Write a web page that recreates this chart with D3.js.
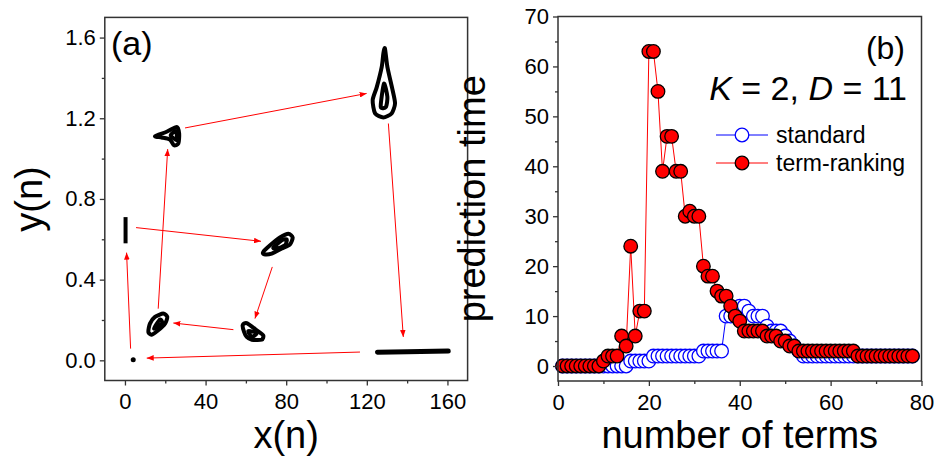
<!DOCTYPE html>
<html>
<head>
<meta charset="utf-8">
<script src="https://cdn.jsdelivr.net/npm/d3@7/dist/d3.min.js"></script>
<style>
  body { margin: 0; background: #fff; }
  svg { display: block; font-family: 'Liberation Sans', Arial, sans-serif; }
</style>
</head>
<body>
<div id="chart"><svg width="937" height="457"></svg></div>
<script>
// ---- data, panel (a): orbit clusters in the (x(n), y(n)) plane
const dotA = [4.1, 0.003];
const barV = [[0.3, 0.58], [0.3, 0.71]];
const barH = [[125.3, 0.040], [140, 0.043], [160.4, 0.046]];
const loopsA = [
  // blob near (75, 0.58)
  [[68.6, 0.537], [72.0, 0.570], [76.9, 0.609], [81.1, 0.628], [83.2, 0.609], [81.9, 0.575], [77.8, 0.554], [72.8, 0.529], [69.0, 0.526]],
  [[73.6, 0.559], [77.8, 0.595], [80.3, 0.599], [79.4, 0.570], [75.3, 0.554]],
  // blob near (63, 0.14)
  [[58.4, 0.174], [60.4, 0.185], [65.4, 0.149], [68.6, 0.124], [67.8, 0.102], [62.9, 0.102], [60.4, 0.116], [59.1, 0.141]],
  [[61.2, 0.145], [65.4, 0.135], [62.9, 0.116]],
  // blob near (16, 0.18)
  [[11.6, 0.141], [12.4, 0.182], [14.9, 0.215], [19.0, 0.232], [21.0, 0.215], [19.9, 0.182], [16.5, 0.149], [13.2, 0.127]],
  [[14.4, 0.157], [17.4, 0.202], [18.5, 0.182]],
  // blob near (22, 1.11)
  [[14.9, 1.111], [20.7, 1.133], [25.7, 1.157], [26.9, 1.124], [26.5, 1.075], [24.3, 1.066], [22.3, 1.095], [18.2, 1.105]],
  [[22.7, 1.116], [25.3, 1.137], [25.7, 1.091]],
  // tall loop near (128, 1.37)
  [[129.0, 1.546], [130.2, 1.455], [132.8, 1.339], [134.0, 1.273], [132.3, 1.224], [128.2, 1.204], [124.1, 1.224], [122.9, 1.290], [124.9, 1.353], [127.4, 1.455], [128.2, 1.521]],
  [[126.9, 1.257], [128.5, 1.372], [130.2, 1.306], [129.5, 1.257]]
];
// arrows: [x0, y0, x1, y1]
const arrowsA = [
  [116.6, 0.041, 10.8, 0.011],
  [2.8, 0.058, 0.8, 0.534],
  [5.5, 0.658, 67.5, 0.590],
  [73.1, 0.463, 64.5, 0.207],
  [53.8, 0.152, 24.0, 0.185],
  [16.5, 0.256, 21.2, 1.047],
  [29.8, 1.152, 119.9, 1.323],
  [130.7, 1.174, 138.1, 0.116]
];
const xTicksA = [0, 40, 80, 120, 160];
const xMinorA = [20, 60, 100, 140];
const yTicksA = [0, 0.4, 0.8, 1.2, 1.6];
const yMinorA = [0.2, 0.6, 1.0, 1.4];

// ---- data, panel (b): prediction time vs number of terms
const terms = [1, 2, 3, 4, 5, 6, 7, 8, 9, 10, 11, 12, 13, 14, 15, 16, 17, 18, 19, 20,
  21, 22, 23, 24, 25, 26, 27, 28, 29, 30, 31, 32, 33, 34, 35, 36, 37, 38, 39, 40,
  41, 42, 43, 44, 45, 46, 47, 48, 49, 50, 51, 52, 53, 54, 55, 56, 57, 58, 59, 60,
  61, 62, 63, 64, 65, 66, 67, 68, 69, 70, 71, 72, 73, 74, 75, 76, 77, 78];
const standard = [0, 0, 0, 0, 0, 0, 0, 0, 0, 0, 0, 0, 0, 0, 0, 1, 1, 1, 1, 1,
  2, 2, 2, 2, 2, 2, 2, 2, 2, 2, 2, 3, 3, 3, 3, 3, 10, 10, 11, 12,
  12, 11, 10, 10, 10, 8, 7, 7, 7, 6, 5, 4, 3, 2, 2, 2, 2, 2, 2, 2,
  2, 2, 2, 2, 2, 2, 2, 2, 2, 2, 2, 2, 2, 2, 2, 2, 2, 2];
const termRanking = [0, 0, 0, 0, 0, 0, 0, 0, 0, 1, 2, 2, 2, 6, 4, 24, 6, 11, 11, 63,
  63, 55, 39, 46, 46, 39, 39, 30, 31, 30, 30, 20, 18, 18, 15, 14, 14, 12, 10, 9,
  7, 7, 7, 7, 7, 6, 6, 6, 5, 5, 4, 4, 3, 3, 3, 3, 3, 3, 3, 3,
  3, 3, 3, 3, 3, 2, 2, 2, 2, 2, 2, 2, 2, 2, 2, 2, 2, 2];
const xTicksB = [0, 20, 40, 60, 80];
const xMinorB = [10, 30, 50, 70];
const yTicksB = [0, 10, 20, 30, 40, 50, 60, 70];
const yMinorB = [5, 15, 25, 35, 45, 55, 65];

const svg = d3.select('#chart svg');
const AXIS = '#333';
const TICK_FONT = 22;
const TITLE_FONT = 38;

svg.append('rect').attr('width', 937).attr('height', 457).style('fill', '#fff');

// arrow head
svg.append('defs').append('marker')
  .attr('id', 'head')
  .attr('viewBox', '0 -4 10 8')
  .attr('refX', 10)
  .attr('refY', 0)
  .attr('markerUnits', 'userSpaceOnUse')
  .attr('markerWidth', 7)
  .attr('markerHeight', 5.6)
  .attr('orient', 'auto')
  .append('path')
  .attr('d', 'M0,-4L10,0L0,4Z')
  .style('fill', '#ff0000');

// draws ticks + labels + frame for a panel
function frame(g, sx, sy, xt, xm, yt, ym, xfmt, yfmt) {
  const [x0, x1] = sx.range();
  const [y0, y1] = sy.range();
  g.append('g')
    .attr('transform', `translate(0,${y0})`)
    .call(d3.axisBottom(sx).tickValues(xm).tickSize(3).tickFormat(''))
    .call(a => a.select('.domain').remove());
  g.append('g')
    .attr('transform', `translate(0,${y0})`)
    .call(d3.axisBottom(sx).tickValues(xt).tickSize(5).tickPadding(8).tickFormat(xfmt))
    .call(a => a.select('.domain').remove());
  g.append('g')
    .attr('transform', `translate(${x0},0)`)
    .call(d3.axisLeft(sy).tickValues(ym).tickSize(3).tickFormat(''))
    .call(a => a.select('.domain').remove());
  g.append('g')
    .attr('transform', `translate(${x0},0)`)
    .call(d3.axisLeft(sy).tickValues(yt).tickSize(5).tickPadding(4).tickFormat(yfmt))
    .call(a => a.select('.domain').remove());
  g.selectAll('.tick line').style('stroke', AXIS).style('stroke-width', 1.3);
  g.selectAll('.tick text')
    .style('font-family', "'Liberation Sans', Arial, sans-serif")
    .style('font-size', TICK_FONT + 'px')
    .style('fill', '#000');
  g.append('rect')
    .attr('x', x0).attr('y', y1)
    .attr('width', x1 - x0).attr('height', y0 - y1)
    .style('fill', 'none')
    .style('stroke', AXIS)
    .style('stroke-width', 1.5);
}

// ================= panel (a)
const xA = d3.scaleLinear().domain([-10, 170]).range([104.8, 467.6]);
const yA = d3.scaleLinear().domain([-0.1, 1.7]).range([380.5, 17.4]);
const gA = svg.append('g').attr('id', 'panelA');

const loopLine = d3.line()
  .x(d => xA(d[0]))
  .y(d => yA(d[1]))
  .curve(d3.curveCardinalClosed.tension(0.3));

gA.selectAll('path.loop')
  .data(loopsA)
  .join('path')
  .attr('class', 'loop')
  .attr('d', loopLine)
  .style('fill', 'none')
  .style('stroke', '#000')
  .style('stroke-width', 4)
  .style('stroke-linejoin', 'round');

gA.append('line')
  .attr('x1', xA(barV[0][0])).attr('y1', yA(barV[0][1]))
  .attr('x2', xA(barV[1][0])).attr('y2', yA(barV[1][1]))
  .style('stroke', '#000')
  .style('stroke-width', 4);

gA.append('path')
  .attr('d', d3.line().x(d => xA(d[0])).y(d => yA(d[1]))(barH))
  .style('fill', 'none')
  .style('stroke', '#000')
  .style('stroke-width', 5)
  .style('stroke-linecap', 'round');

gA.append('circle')
  .attr('cx', xA(dotA[0]))
  .attr('cy', yA(dotA[1]))
  .attr('r', 2.5)
  .style('fill', '#000');

gA.selectAll('line.arrow')
  .data(arrowsA)
  .join('line')
  .attr('class', 'arrow')
  .attr('x1', d => xA(d[0])).attr('y1', d => yA(d[1]))
  .attr('x2', d => xA(d[2])).attr('y2', d => yA(d[3]))
  .style('stroke', '#ff0000')
  .style('stroke-width', 1)
  .attr('marker-end', 'url(#head)');

frame(gA, xA, yA, xTicksA, xMinorA, yTicksA, yMinorA, d3.format('d'), d3.format('.1f'));

gA.append('text')
  .text('(a)')
  .attr('x', 111)
  .attr('y', 55)
  .style('font-size', '34px');

gA.append('text')
  .text('x(n)')
  .attr('x', (xA.range()[0] + xA.range()[1]) / 2)
  .attr('y', 448)
  .style('font-size', TITLE_FONT + 'px')
  .style('text-anchor', 'middle');

gA.append('text')
  .text('y(n)')
  .attr('transform', `translate(42,${(yA.range()[0] + yA.range()[1]) / 2}) rotate(-90)`)
  .style('font-size', TITLE_FONT + 'px')
  .style('text-anchor', 'middle');

// ================= panel (b)
const xB = d3.scaleLinear().domain([0, 80]).range([558, 921.5]);
const yB = d3.scaleLinear().domain([-3, 70]).range([381, 16.5]);
const gB = svg.append('g').attr('id', 'panelB');

const seriesLine = d3.line()
  .x((d, i) => xB(terms[i]))
  .y(d => yB(d));

gB.append('path')
  .attr('d', seriesLine(standard))
  .style('fill', 'none')
  .style('stroke', '#0000ff')
  .style('stroke-width', 1);

gB.selectAll('circle.standard')
  .data(standard)
  .join('circle')
  .attr('class', 'standard')
  .attr('cx', (d, i) => xB(terms[i]))
  .attr('cy', d => yB(d))
  .attr('r', 6.8)
  .style('fill', '#fff')
  .style('stroke', '#0000ff')
  .style('stroke-width', 1.3);

gB.append('path')
  .attr('d', seriesLine(termRanking))
  .style('fill', 'none')
  .style('stroke', '#ff0000')
  .style('stroke-width', 1);

gB.selectAll('circle.ranking')
  .data(termRanking)
  .join('circle')
  .attr('class', 'ranking')
  .attr('cx', (d, i) => xB(terms[i]))
  .attr('cy', d => yB(d))
  .attr('r', 6.8)
  .style('fill', '#ff0000')
  .style('stroke', '#000')
  .style('stroke-width', 1.3);

frame(gB, xB, yB, xTicksB, xMinorB, yTicksB, yMinorB, d3.format('d'), d3.format('d'));

gB.append('text')
  .text('(b)')
  .attr('x', 905)
  .attr('y', 59)
  .style('font-size', '32px')
  .style('text-anchor', 'end');

const kd = gB.append('text')
  .attr('x', 907)
  .attr('y', 100)
  .style('font-size', '34px')
  .style('text-anchor', 'end');
kd.append('tspan').text('K').style('font-style', 'italic');
kd.append('tspan').text(' = 2, ');
kd.append('tspan').text('D').style('font-style', 'italic');
kd.append('tspan').text(' = 11');

// legend
const legend = gB.append('g').attr('id', 'legend');
const legendItems = [
  { name: 'standard', color: '#0000ff', fill: '#fff', edge: '#0000ff', y: 135 },
  { name: 'term-ranking', color: '#ff0000', fill: '#ff0000', edge: '#000', y: 163 }
];
legendItems.forEach(it => {
  legend.append('line')
    .attr('x1', 716).attr('x2', 768)
    .attr('y1', it.y).attr('y2', it.y)
    .style('stroke', it.color)
    .style('stroke-width', 1);
  legend.append('circle')
    .attr('cx', 742).attr('cy', it.y)
    .attr('r', 6.8)
    .style('fill', it.fill)
    .style('stroke', it.edge)
    .style('stroke-width', 1.3);
  legend.append('text')
    .text(it.name)
    .attr('x', 776)
    .attr('y', it.y + 7.5)
    .style('font-size', '23px');
});

gB.append('text')
  .text('number of terms')
  .attr('x', (xB.range()[0] + xB.range()[1]) / 2)
  .attr('y', 448)
  .style('font-size', TITLE_FONT + 'px')
  .style('text-anchor', 'middle');

gB.append('text')
  .text('prediction time')
  .attr('transform', `translate(485,${(yB.range()[0] + yB.range()[1]) / 2}) rotate(-90)`)
  .style('font-size', TITLE_FONT + 'px')
  .style('text-anchor', 'middle');
</script>
</body>
</html>
